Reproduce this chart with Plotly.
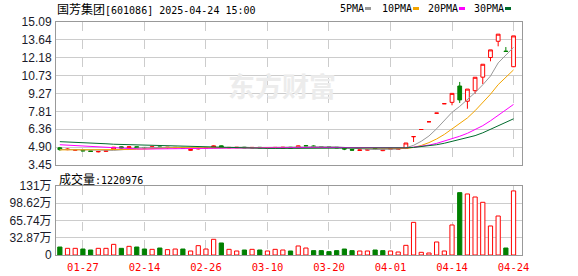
import plotly.graph_objects as go

# ---------------- data ----------------
dates = ["01-22", "01-23", "01-24", "01-27", "02-05", "02-06", "02-07", "02-10", "02-11", "02-12",
         "02-13", "02-14", "02-17", "02-18", "02-19", "02-20", "02-21", "02-24", "02-25", "02-26",
         "02-27", "02-28", "03-03", "03-04", "03-05", "03-06", "03-07", "03-10", "03-11", "03-12",
         "03-13", "03-14", "03-17", "03-18", "03-19", "03-20", "03-21", "03-24", "03-25", "03-26",
         "03-27", "03-28", "03-31", "04-01", "04-02", "04-03", "04-07", "04-08", "04-09", "04-10",
         "04-11", "04-14", "04-15", "04-16", "04-17", "04-18", "04-21", "04-22", "04-23", "04-24"]

open_ = [4.85, 4.70, 4.66, 4.66, 4.60, 4.52, 4.56, 4.72, 4.93, 4.85,
         4.94, 4.88, 4.85, 4.92, 4.86, 4.85, 4.88, 4.64, 4.76, 4.82,
         4.86, 5.01, 4.85, 4.86, 4.90, 4.85, 4.89, 4.84, 4.86, 4.80,
         4.90, 4.85, 5.02, 5.00, 4.95, 4.93, 4.90, 4.82, 4.71, 4.63,
         4.66, 4.80, 4.62, 4.72, 4.74, 4.80, 5.76, 6.34, 6.97, 7.67,
         8.44, 8.55, 9.88, 8.64, 9.50, 10.60, 12.20, 13.52, 12.72, 11.45]
high = [4.92, 4.80, 4.72, 4.68, 4.62, 4.58, 4.64, 4.92, 4.96, 4.95,
        4.96, 4.90, 4.95, 4.93, 4.90, 4.90, 4.89, 4.75, 4.88, 4.88,
        5.05, 5.04, 4.90, 4.90, 4.92, 4.90, 4.90, 4.88, 4.90, 4.92,
        4.92, 5.04, 5.08, 5.05, 4.98, 4.95, 4.91, 4.84, 4.72, 4.70,
        4.72, 4.82, 4.72, 4.84, 4.80, 5.24, 5.76, 6.34, 6.97, 7.67,
        8.44, 9.28, 10.21, 9.63, 10.59, 11.65, 12.82, 14.10, 13.05, 13.96]
low = [4.62, 4.66, 4.62, 4.58, 4.52, 4.48, 4.54, 4.70, 4.80, 4.83,
       4.84, 4.82, 4.84, 4.84, 4.78, 4.83, 4.78, 4.60, 4.72, 4.80,
       4.84, 4.84, 4.82, 4.84, 4.84, 4.83, 4.83, 4.82, 4.84, 4.78,
       4.80, 4.84, 4.98, 4.94, 4.90, 4.88, 4.83, 4.66, 4.64, 4.60,
       4.64, 4.73, 4.58, 4.70, 4.70, 4.78, 5.32, 6.34, 6.97, 7.67,
       8.44, 8.31, 8.50, 8.03, 9.25, 10.04, 11.89, 13.11, 12.66, 11.42]
close = [4.70, 4.74, 4.68, 4.60, 4.55, 4.55, 4.62, 4.90, 4.84, 4.93,
         4.86, 4.85, 4.93, 4.88, 4.89, 4.88, 4.80, 4.72, 4.80, 4.86,
         5.01, 4.86, 4.88, 4.89, 4.86, 4.88, 4.85, 4.87, 4.88, 4.90,
         4.82, 5.01, 5.00, 4.95, 4.93, 4.90, 4.85, 4.75, 4.66, 4.68,
         4.70, 4.75, 4.70, 4.80, 4.76, 5.24, 5.76, 6.34, 6.97, 7.67,
         8.44, 9.28, 8.75, 9.63, 10.59, 11.65, 12.82, 14.10, 12.69, 13.96]

ma5 = [4.72, 4.71, 4.70, 4.67, 4.65, 4.62, 4.60, 4.64, 4.69, 4.77,
       4.83, 4.88, 4.88, 4.89, 4.88, 4.89, 4.88, 4.83, 4.82, 4.81,
       4.84, 4.85, 4.88, 4.90, 4.90, 4.87, 4.87, 4.87, 4.87, 4.88,
       4.86, 4.90, 4.92, 4.94, 4.94, 4.96, 4.93, 4.88, 4.82, 4.77,
       4.73, 4.71, 4.70, 4.73, 4.74, 4.85, 5.05, 5.38, 5.81, 6.40,
       7.04, 7.74, 8.22, 8.75, 9.34, 9.98, 10.69, 11.76, 12.37, 13.03]
ma10 = [4.68, 4.68, 4.67, 4.66, 4.65, 4.65, 4.65, 4.67, 4.69, 4.71,
        4.73, 4.74, 4.76, 4.79, 4.83, 4.86, 4.88, 4.86, 4.85, 4.85,
        4.86, 4.86, 4.86, 4.86, 4.86, 4.86, 4.86, 4.88, 4.88, 4.89,
        4.87, 4.88, 4.90, 4.90, 4.91, 4.91, 4.91, 4.90, 4.88, 4.86,
        4.84, 4.82, 4.79, 4.77, 4.76, 4.79, 4.88, 5.04, 5.27, 5.57,
        5.94, 6.40, 6.80, 7.28, 7.87, 8.51, 9.21, 9.99, 10.56, 11.19]
ma20 = [5.10, 5.06, 5.02, 4.98, 4.94, 4.90, 4.86, 4.83, 4.80, 4.78,
        4.76, 4.75, 4.75, 4.75, 4.75, 4.76, 4.77, 4.78, 4.79, 4.80,
        4.81, 4.82, 4.83, 4.84, 4.85, 4.86, 4.86, 4.87, 4.87, 4.87,
        4.87, 4.88, 4.88, 4.88, 4.88, 4.88, 4.87, 4.87, 4.86, 4.85,
        4.84, 4.83, 4.83, 4.82, 4.82, 4.85, 4.90, 4.97, 5.07, 5.21,
        5.39, 5.61, 5.79, 6.03, 6.31, 6.65, 7.05, 7.51, 7.92, 8.38]
ma30 = [5.35, 5.33, 5.30, 5.26, 5.24, 5.22, 5.18, 5.14, 5.12, 5.10,
        5.08, 5.06, 5.05, 5.04, 5.02, 5.00, 4.98, 4.95, 4.92, 4.90,
        4.88, 4.86, 4.84, 4.82, 4.80, 4.80, 4.80, 4.80, 4.80, 4.80,
        4.81, 4.82, 4.83, 4.84, 4.84, 4.85, 4.85, 4.85, 4.85, 4.84,
        4.84, 4.84, 4.84, 4.84, 4.84, 4.85, 4.88, 4.94, 5.01, 5.10,
        5.22, 5.37, 5.49, 5.65, 5.84, 6.07, 6.34, 6.64, 6.90, 7.21]

# volume in units of 10k (万)
volume = [15.2, 12.7, 12.7, 11.4, 9.5, 12.7, 12.7, 20.3, 12.7, 16.5,
          15.2, 11.4, 10.8, 13.3, 10.2, 11.4, 11.4, 7.6, 17.8, 11.4,
          29.9, 22.9, 10.8, 7.6, 9.5, 10.8, 9.5, 7.6, 10.8, 9.5,
          7.6, 17.2, 13.3, 8.3, 8.3, 6.4, 8.3, 11.4, 8.3, 7.6,
          7.6, 9.5, 8.3, 7.6, 5.7, 18.4, 62.2, 5.1, 3.8, 24.8,
          7.6, 57.2, 118.8, 116.3, 110.5, 100.4, 55.3, 74.3, 13.3, 122.0976]
vol_dir = list("GRRGGRRRGR" "GGRGRRGRRR" "RGRRGRGRRR"
               "GRRGGGGGGR" "RGGRRRRRRR" "RRGRRRRRGR")

price_ticks = [3.45, 4.90, 6.36, 7.81, 9.27, 10.73, 12.18, 13.64, 15.09]
vol_ticks = [0, 32.87, 65.74, 98.62, 131.48]
vol_tick_text = ["0", "32.87万", "65.74万", "98.62万", "131万"]
x_tick_labels = ["01-27", "02-14", "02-26", "03-10", "03-20", "04-01", "04-14", "04-24"]

stock_name = "国芳集团"
stock_code = "601086"
timestamp = "2025-04-24 15:00"
ma_names = ["5PMA", "10PMA", "20PMA", "30PMA"]

# ---------------- styles ----------------
W, H = 578, 276
L, R, T, B = 56, 56, 22, 21
PH = H - T - B
PW = W - L - R
RED = "#ff0000"
GREEN = "#008000"
ma_colors = ["#999999", "#f2a400", "#ff00ff", "#006b2d"]
GRID = "#cccccc"
FRAME = "#999999"


def px(xp):
    return (xp - L) / PW


def py(yp):
    return (H - B - yp) / PH


price_dom = [py(165), 1.0]
vol_dom = [0.0, py(186)]

fig = go.Figure()

fig.add_trace(go.Candlestick(
    x=dates, open=open_, high=high, low=low, close=close,
    increasing=dict(line=dict(color=RED, width=1), fillcolor="white"),
    decreasing=dict(line=dict(color=GREEN, width=1), fillcolor=GREEN),
    whiskerwidth=0, xaxis="x", yaxis="y", showlegend=False, hoverinfo="skip"))

for name, vals, col in zip(ma_names, [ma5, ma10, ma20, ma30], ma_colors):
    fig.add_trace(go.Scatter(x=dates, y=vals, mode="lines", name=name,
                             line=dict(color=col, width=1), xaxis="x", yaxis="y",
                             showlegend=False, hoverinfo="skip"))

fig.add_trace(go.Bar(
    x=dates, y=volume, width=0.55,
    marker=dict(color=["white" if d == "R" else GREEN for d in vol_dir],
                line=dict(color=[RED if d == "R" else GREEN for d in vol_dir], width=1)),
    xaxis="x2", yaxis="y2", showlegend=False, hoverinfo="skip"))

axis_common = dict(showline=True, linecolor=FRAME, linewidth=1, mirror=True, ticks="",
                   zeroline=False, automargin=False)

fig.update_layout(
    width=W, height=H,
    margin=dict(l=L, r=R, t=T, b=B, autoexpand=False),
    paper_bgcolor="white", plot_bgcolor="white",
    showlegend=False,
    xaxis=dict(domain=[0, 1], anchor="y", type="category", categoryorder="array",
               categoryarray=dates, range=[-0.5, 60.1], tickvals=x_tick_labels,
               showticklabels=False, showgrid=True, gridcolor=GRID, griddash="dash",
               gridwidth=1, rangeslider=dict(visible=False), **axis_common),
    yaxis=dict(domain=price_dom, anchor="x", range=[price_ticks[0], price_ticks[-1]],
               tickvals=price_ticks, ticktext=[f"{v:.2f}" for v in price_ticks],
               showgrid=True, gridcolor=GRID, gridwidth=1, ticklabelstandoff=1,
               tickfont=dict(family="Liberation Sans, Arial", size=12, color="#1a1a2a"),
               **axis_common),
    xaxis2=dict(domain=[0, 1], anchor="y2", matches="x", type="category",
                categoryorder="array", categoryarray=dates,
                tickvals=x_tick_labels, ticktext=x_tick_labels,
                showgrid=True, gridcolor=GRID, griddash="dash", gridwidth=1,
                ticklabelstandoff=2,
                tickfont=dict(family="DejaVu Sans Mono", size=10.5, color=RED),
                **axis_common),
    yaxis2=dict(domain=vol_dom, anchor="x2", range=[vol_ticks[0], vol_ticks[-1]],
                tickvals=vol_ticks, ticktext=vol_tick_text, ticklabelstandoff=1,
                showgrid=True, gridcolor=GRID, gridwidth=1,
                tickfont=dict(family="Liberation Sans, Noto Sans CJK SC", size=12,
                              color="#1a1a2a"),
                **axis_common),
)

annotations = []
annotations.append(dict(
    x=px(55), y=py(9), xref="paper", yref="paper", xanchor="left", yanchor="middle",
    showarrow=False,
    text=f"<span style='font-family:Noto Sans CJK SC;font-size:12px'>{stock_name}</span>[{stock_code}] {timestamp}",
    font=dict(family="DejaVu Sans Mono", size=10, color="#000000")))
annotations.append(dict(
    x=px(57), y=py(178), xref="paper", yref="paper", xanchor="left", yanchor="middle",
    showarrow=False,
    text=f"<span style='font-family:Noto Sans CJK SC;font-size:12px'>成交量</span>:{int(round(volume[-1] * 10000))}",
    font=dict(family="DejaVu Sans Mono", size=10, color="#000000")))

legend_x = [338, 380, 426, 472]
square_x = [365, 413, 459, 505]
for name, col, lx, sx in zip(ma_names, ma_colors, legend_x, square_x):
    annotations.append(dict(
        x=px(lx), y=py(9), xref="paper", yref="paper", xanchor="left", yanchor="middle",
        showarrow=False, text=name,
        font=dict(family="DejaVu Sans Mono", size=10, color="#000000")))
    fig.add_shape(type="rect", xref="paper", yref="paper",
                  x0=px(sx), x1=px(sx + 6), y0=py(10), y1=py(7),
                  fillcolor=col, line=dict(width=0))

# watermark
annotations.append(dict(
    x=px(282), y=py(85), xref="paper", yref="paper", xanchor="center", yanchor="middle",
    showarrow=False, text="<b>东方财富</b>",
    font=dict(family="Noto Sans CJK SC", size=27, color="#ececec")))

fig.update_layout(annotations=annotations)

fig.write_html("out.html", config={"displayModeBar": False})
